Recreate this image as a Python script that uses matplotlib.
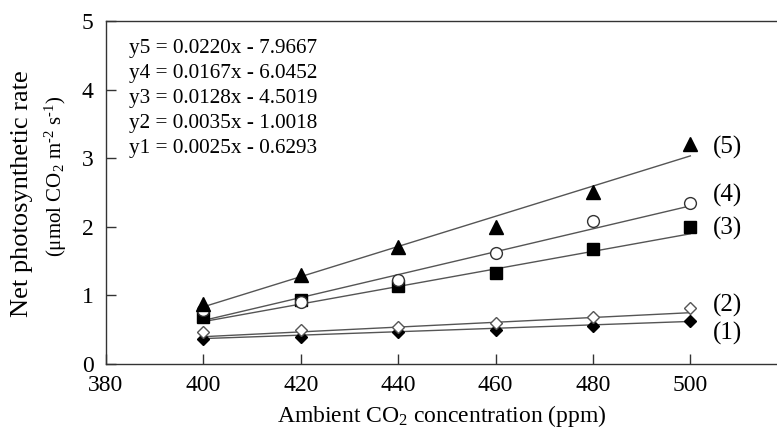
import matplotlib
matplotlib.use("Agg")
import matplotlib.pyplot as plt
import numpy as np

plt.rcParams['font.family'] = ['Liberation Serif', 'DejaVu Serif']
plt.rcParams['mathtext.fontset'] = 'custom'
plt.rcParams['mathtext.rm'] = 'Liberation Serif'
plt.rcParams['mathtext.it'] = 'Liberation Serif:italic'

co2 = [400, 420, 440, 460, 480, 500]

# measured points, series (1)..(5)
y1 = [0.36, 0.40, 0.46, 0.50, 0.55, 0.62]
y2 = [0.46, 0.50, 0.54, 0.60, 0.68, 0.82]
y3 = [0.68, 0.93, 1.13, 1.32, 1.67, 2.00]
y4 = [0.78, 0.90, 1.22, 1.62, 2.08, 2.35]
y5 = [0.88, 1.30, 1.70, 2.00, 2.50, 3.20]

# fitted lines from the equations
slopes = [0.0025, 0.0035, 0.0128, 0.0167, 0.0220]
intercepts = [-0.6293, -1.0018, -4.5019, -6.0452, -7.9667]
equations = ["y5 = 0.0220x - 7.9667",
             "y4 = 0.0167x - 6.0452",
             "y3 = 0.0128x - 4.5019",
             "y2 = 0.0035x - 1.0018",
             "y1 = 0.0025x - 0.6293"]
series_labels = ["(1)", "(2)", "(3)", "(4)", "(5)"]
label_y = [0.45, 0.86, 1.98, 2.46, 3.16]

fig = plt.figure(figsize=(7.77, 4.28), dpi=100)
ax = fig.add_axes([0.1364, 0.1495, 0.8636, 0.8015])

series = [y1, y2, y3, y4, y5]
styles = [dict(marker='D', ms=6.5, mfc='black', mec='black'),
          dict(marker='D', ms=6.5, mfc='white', mec='#555555', mew=1),
          dict(marker='s', ms=8, mfc='black', mec='black'),
          dict(marker='o', ms=8.5, mfc='white', mec='#333333', mew=1),
          dict(marker='^', ms=9.5, mfc='black', mec='black')]

xs = np.array([co2[0], co2[-1]])
for i in range(5):
    ax.plot(xs, slopes[i] * xs + intercepts[i], color='#555555', lw=1, zorder=2)
    ax.plot(co2, series[i], ls='none', zorder=3, **styles[i])
    ax.text(504.6, label_y[i], series_labels[i], fontsize=18, va='center', ha='left')

for k, eq in enumerate(equations):
    ax.text(0.034, 0.92 - k * 0.0729, eq, transform=ax.transAxes, fontsize=15.3, va='center', ha='left')

ax.set_xlim(380, 517.8)
ax.set_ylim(0, 5)
ax.set_xticks([380, 400, 420, 440, 460, 480, 500])
ax.set_yticks([0, 1, 2, 3, 4, 5])
ax.tick_params(direction='in', length=7, width=1, labelsize=17, color='#333333')
ax.tick_params(axis='x', pad=8)
ax.tick_params(axis='y', pad=9)
ax.spines['right'].set_visible(False)
for s in ['left', 'bottom', 'top']:
    ax.spines[s].set_color('#333333')
    ax.spines[s].set_linewidth(1)

ax.set_xlabel("Ambient CO$_2$ concentration (ppm)", fontsize=17, labelpad=5)
# y label as two rotated lines, placed like the reference
ax.text(-0.125, 0.496, "Net photosynthetic rate", transform=ax.transAxes,
        rotation=90, fontsize=19, ha='center', va='center')
ax.text(-0.075, 0.548, r"(μmol CO$_2$ m$^{\text{-2}}$ s$^{\text{-1}}$)", transform=ax.transAxes,
        rotation=90, fontsize=15, ha='center', va='center')

fig.savefig("out.png", dpi=100)
